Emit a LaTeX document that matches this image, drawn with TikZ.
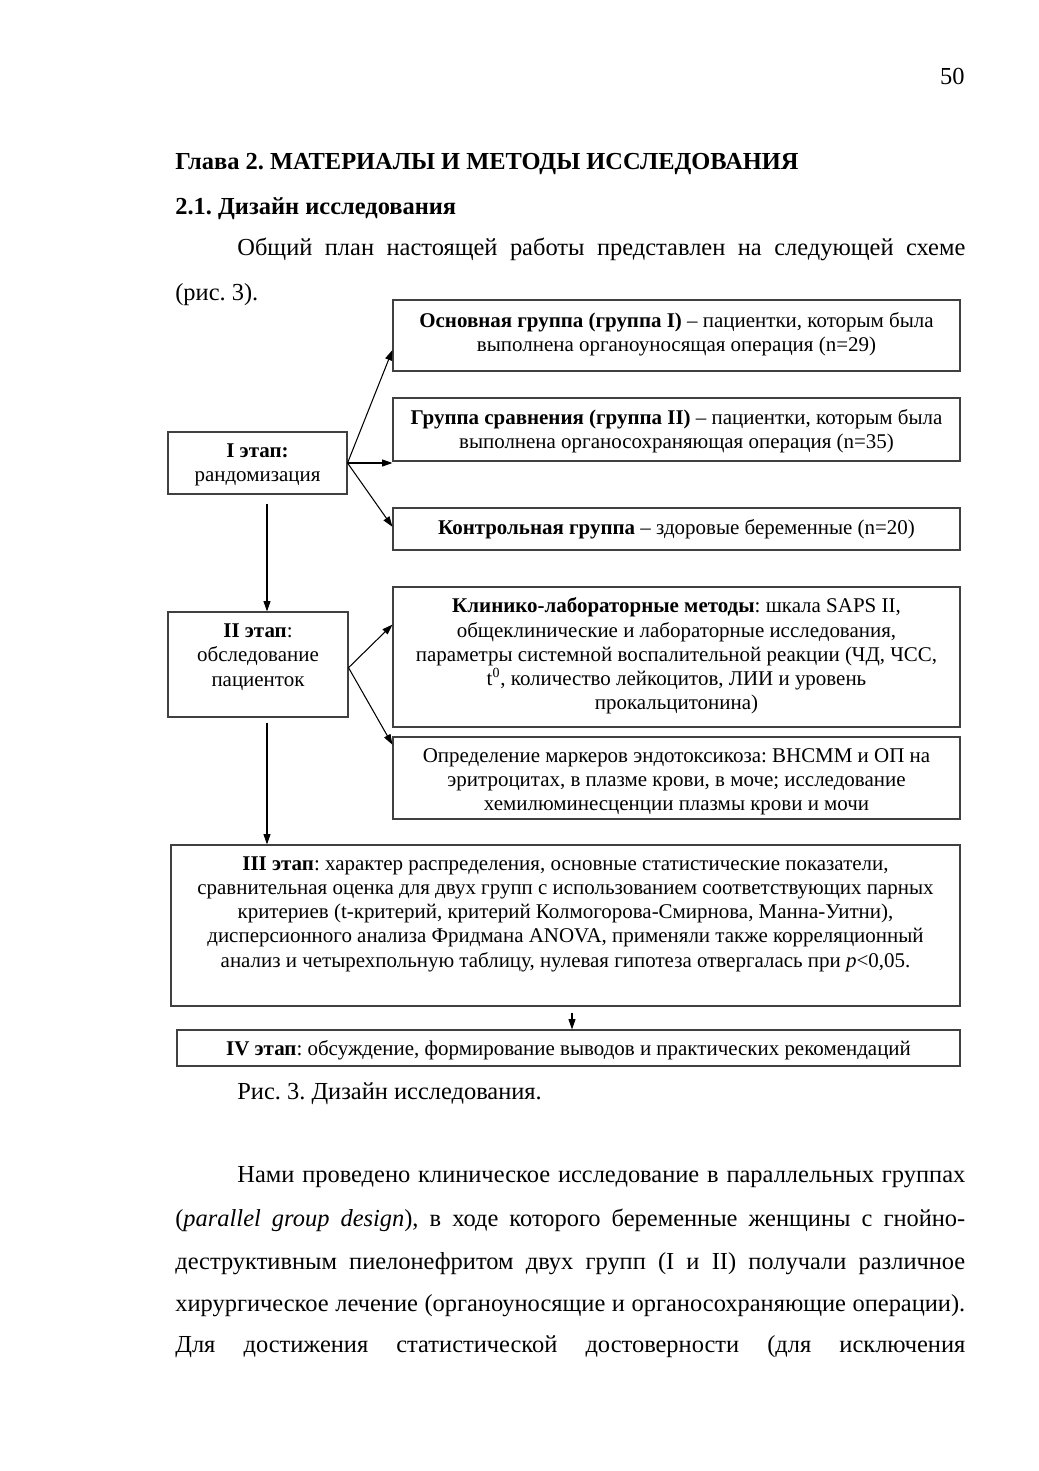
\documentclass[tikz,border=0pt]{standalone}
\usepackage{fontspec}
\setmainfont{Liberation Serif}
\usetikzlibrary{arrows.meta,calc,fit}
\newlength\pxu
\setlength\pxu{0.5727pt}
\frenchspacing
\begin{document}
\frenchspacing
\begin{tikzpicture}[x=0.5727pt,y=-0.5727pt,
 box/.style={draw=black!75,line width=0.6pt,inner sep=0pt},
 btxt/.style={align=center,inner sep=0pt,font=\fontsize{12}{13.9}\selectfont},
 ptxt/.style={inner sep=0pt,anchor=base west,font=\fontsize{14}{16}\selectfont},
 arr/.style={-{Triangle[length=6pt,width=4pt]},line width=0.6pt}]
\fill[white] (0,0) rectangle (1039,1471);
\useasboundingbox (0,0) rectangle (1039,1471);

% page text
\node[ptxt,anchor=base east] (pn) at (965,85) {50};
\node[ptxt] (h1) at (175,170) {\textbf{Глава 2. МАТЕРИАЛЫ И МЕТОДЫ ИССЛЕДОВАНИЯ}};
\node[ptxt] (h2) at (175,215) {\textbf{2.1. Дизайн исследования}};
\node[ptxt] (p1) at (237,256) {\makebox[728\pxu][s]{Общий план настоящей работы представлен на следующей схеме}};
\node[ptxt] (p2) at (175,301) {(рис. 3).};

% boxes
\node[box,fit={(393,300) (960,371)}] (A) {};
\node[box,fit={(393,398) (960,461)}] (B) {};
\node[box,fit={(393,508) (960,550)}] (C) {};
\node[box,fit={(168,432) (347,494)}] (I) {};
\node[box,fit={(393,587) (960,727)}] (K) {};
\node[box,fit={(168,612) (348,717)}] (II) {};
\node[box,fit={(393,737) (960,819)}] (O) {};
\node[box,fit={(171,845) (960,1006)}] (III) {};
\node[box,fit={(177,1030) (960,1066)}] (IV) {};

% box texts
\node[btxt] (tA) at (676.5,334.5) {\textbf{Основная группа (группа I)} – пациентки, которым была\\выполнена органоуносящая операция (n=29)};
\node[btxt] (tB) at (676.5,431) {\textbf{Группа сравнения (группа II)} – пациентки, которым была\\выполнена органосохраняющая операция (n=35)};
\node[btxt] (tC) at (676.5,529) {\textbf{Контрольная группа} – здоровые беременные (n=20)};
\node[btxt] (tI) at (257.5,465) {\textbf{I этап:}\\рандомизация};
\node[btxt] (tK) at (676.5,656) {\textbf{Клинико-лабораторные методы}: шкала SAPS II,\\общеклинические и лабораторные исследования,\\параметры системной воспалительной реакции (ЧД, ЧСС,\\t\textsuperscript{0}, количество лейкоцитов, ЛИИ и уровень\\прокальцитонина)};
\node[btxt] (tII) at (258,657) {\textbf{II этап}:\\обследование\\пациенток};
\node[btxt] (tO) at (676.5,782) {Определение маркеров эндотоксикоза: ВНСММ и ОП на\\эритроцитах, в плазме крови, в моче; исследование\\хемилюминесценции плазмы крови и мочи};
\node[btxt] (tIII) at (565.5,914) {\textbf{III этап}: характер распределения, основные статистические показатели,\\сравнительная оценка для двух групп с использованием соответствующих парных\\критериев (t-критерий, критерий Колмогорова-Смирнова, Манна-Уитни),\\дисперсионного анализа Фридмана ANOVA, применяли также корреляционный\\анализ и четырехпольную таблицу, нулевая гипотеза отвергалась при \textit{p}<0,05.};
\node[btxt] (tIV) at (568.5,1050) {\textbf{IV этап}: обсуждение, формирование выводов и практических рекомендаций};

% arrows
\draw[arr] (I.east) -- ($(A.south west)!0.3!(A.north west)$);
\draw[arr] (I.east) -- (I.east -| B.west);
\draw[arr] (I.east) -- ($(C.north west)!0.45!(C.south west)$);
\coordinate (e2) at ($(II.north east)!0.53!(II.south east)$);
\draw[arr] (e2) -- ($(K.north west)!0.27!(K.south west)$);
\draw[arr] (e2) -- ($(O.north west)!0.1!(O.south west)$);
\coordinate (s1) at ($(I.south)+(9.5,9)$);
\draw[arr] (s1) -- (s1 |- II.north);
\coordinate (s2) at ($(II.south)+(9,5)$);
\draw[arr] (s2) -- (s2 |- III.north);
\coordinate (s3) at ($(III.south)+(6.5,6)$);
\draw[arr] (s3) -- (s3 |- IV.north);

% caption and following text
\node[ptxt] (cap) at (237,1099) {Рис. 3. Дизайн исследования.};
\node[ptxt] (q1) at (237,1182) {\makebox[728\pxu][s]{Нами проведено клиническое исследование в параллельных группах}};
\node[ptxt] (q2) at (175,1226) {\makebox[790\pxu][s]{(\textit{parallel group design}), в ходе которого беременные женщины с гнойно-}};
\node[ptxt] (q3) at (175,1269) {\makebox[790\pxu][s]{деструктивным пиелонефритом двух групп (I и II) получали различное}};
\node[ptxt] (q4) at (175,1311) {\makebox[790\pxu][s]{хирургическое лечение (органоуносящие и органосохраняющие операции).}};
\node[ptxt] (q5) at (175,1352) {\makebox[790\pxu][s]{Для достижения статистической достоверности (для исключения}};
\end{tikzpicture}
\end{document}
